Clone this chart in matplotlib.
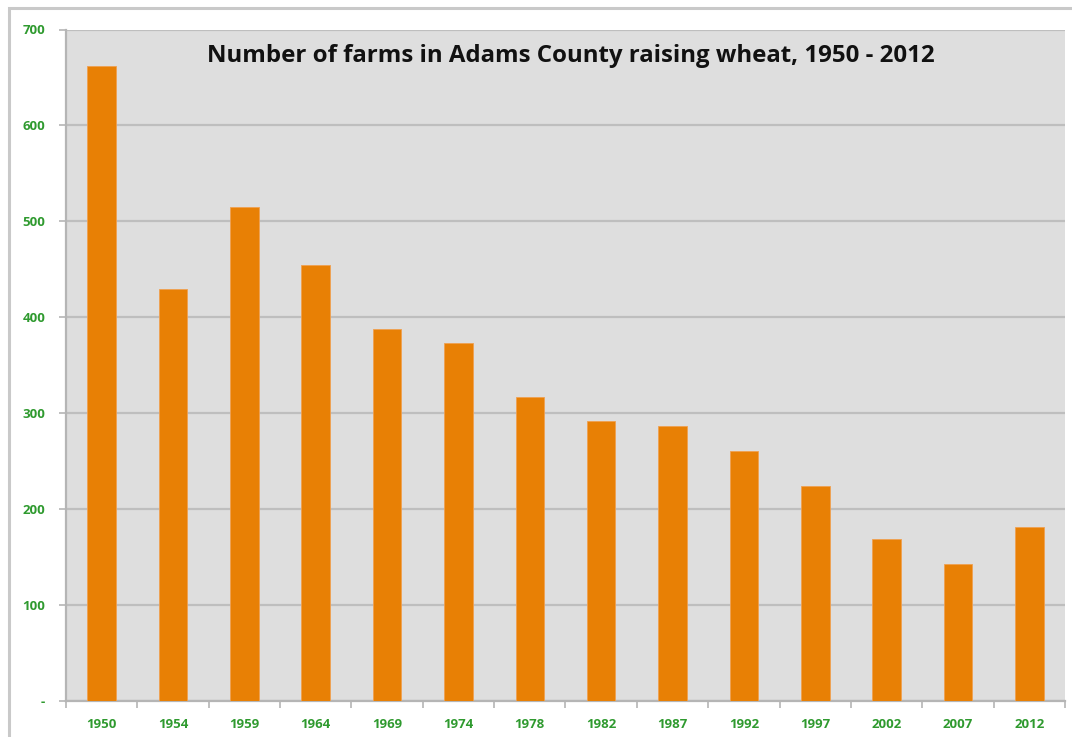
import matplotlib
matplotlib.use("Agg")
import matplotlib.pyplot as plt
from matplotlib.patches import Rectangle

years = ["1950", "1954", "1959", "1964", "1969", "1974", "1978",
         "1982", "1987", "1992", "1997", "2002", "2007", "2012"]
farms = [662, 429, 515, 455, 388, 373, 317, 292, 287, 261, 224, 169, 143, 181]
y_ticks = [0, 100, 200, 300, 400, 500, 600, 700]
y_tick_labels = ["-", "100", "200", "300", "400", "500", "600", "700"]
title = "Number of farms in Adams County raising wheat, 1950 - 2012"

bar_color = "#E88005"
bg_color = "#DEDEDE"
grid_color = "#BEBEBE"
label_green = "#2F9A2F"

fig = plt.figure(figsize=(10.72, 7.37), dpi=100)
fig.patch.set_facecolor("white")

# outer chart frame
fig.patches.append(Rectangle((9 / 1072, -0.01), 1.02, 1 - 8 / 737 + 0.01,
                             transform=fig.transFigure, fill=False,
                             edgecolor="#C9C9C9", linewidth=2.2, zorder=0))

ax = fig.add_axes([66 / 1072, 36 / 737, (1065 - 66) / 1072, (701 - 29.5) / 737])
ax.set_facecolor(bg_color)

x = list(range(len(years)))
ax.bar(x, farms, width=0.4, color=bar_color, edgecolor="#F0A050",
       linewidth=0.6, zorder=3)

ax.set_xlim(-0.5, len(years) - 0.5)
ax.set_ylim(0, 700)

ax.set_yticks(y_ticks)
ax.set_yticklabels(y_tick_labels)
ax.yaxis.grid(True, color=grid_color, linewidth=1.6, zorder=0)
ax.set_axisbelow(True)

ax.set_xticks(x)
ax.set_xticklabels(years)
ax.set_xticks([i - 0.5 for i in range(len(years) + 1)], minor=True)
ax.tick_params(axis="x", which="major", length=0, pad=12)
ax.tick_params(axis="x", which="minor", length=5, width=1.2, color="#B5B5B5")
ax.tick_params(axis="y", length=5, width=1.2, color="#B5B5B5", pad=10)

for lab in ax.get_xticklabels() + ax.get_yticklabels():
    lab.set_color(label_green)
    lab.set_fontweight("bold")
    lab.set_fontsize(9.5)
    lab.set_family("Open Sans")

for side in ("top", "right"):
    ax.spines[side].set_visible(False)
for side in ("left", "bottom"):
    ax.spines[side].set_color("#B5B5B5")
    ax.spines[side].set_linewidth(1.6)

ax.text(0.505, 0.96, title, transform=ax.transAxes, ha="center", va="center",
        fontsize=17.3, fontweight="bold", family="Open Sans", color="#111111",
        zorder=5)

fig.savefig("out.png", dpi=100)
